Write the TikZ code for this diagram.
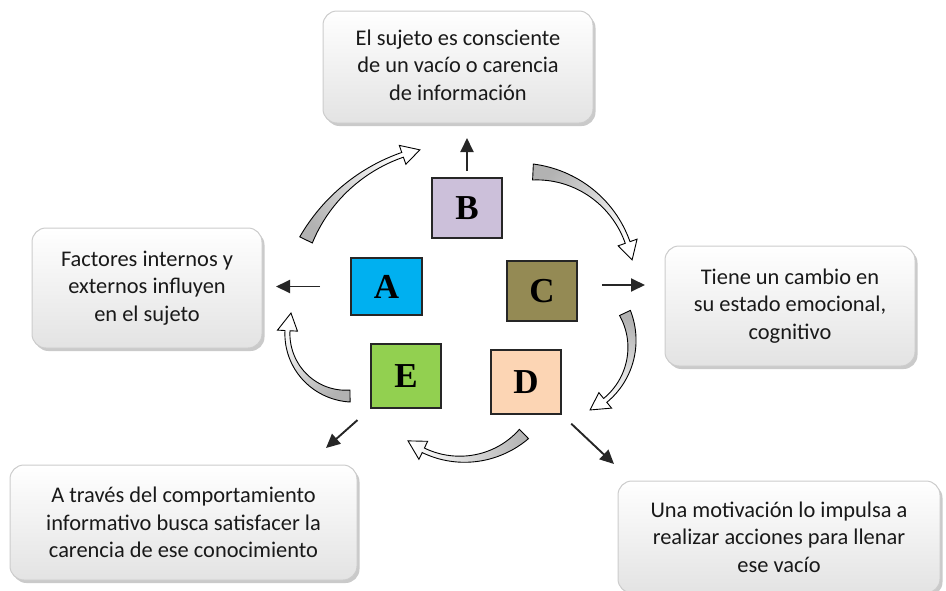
\documentclass[tikz,border=0pt]{standalone}
\usepackage{fontspec}
\setmainfont{Carlito}
\newfontfamily\letfont{Liberation Serif}
\usetikzlibrary{shadows,arrows.meta,calc}
\definecolor{colA}{HTML}{00B0F0}
\definecolor{colB}{HTML}{CCC0DA}
\definecolor{colC}{HTML}{948A54}
\definecolor{colD}{HTML}{FCD5B4}
\definecolor{colE}{HTML}{92D050}
\tikzset{
 tbox/.style={rounded corners=14pt, draw=gray!40, line width=1pt, top color=white, bottom color=gray!22,
   drop shadow={shadow xshift=2.5pt, shadow yshift=-3pt, opacity=0.6, fill=gray!70},
   align=center, font=\fontsize{22.4}{27.5}\selectfont, text=black!90, inner sep=0pt},
 lbox/.style={draw=black!85, line width=1.6pt, font=\letfont\bfseries\fontsize{35}{35}\selectfont, inner sep=0pt},
 arr/.style={-{Triangle[length=14pt,width=13pt]}, line width=1.9pt, draw=black!85},
 carr/.style={draw=black, line width=0.9pt, top color=white, bottom color=gray!60},
}
% curved block arrow: cx cy R a1 a2 w1 w2 shading-angle
\newcommand{\carrow}[8]{%
 \pgfmathsetmacro{\ab}{#5-(18/#3)*180/pi}%
 \pgfmathsetmacro{\hw}{10}%
 \shadedraw[carr, shading angle=#8]
  plot[domain=#4:\ab, samples=40, variable=\q] ({#1+(#3+(#7+(#6-#7)*((\ab-\q)/(\ab-#4))^2)/2)*cos(\q)}, {#2+(#3+(#7+(#6-#7)*((\ab-\q)/(\ab-#4))^2)/2)*sin(\q)})
  -- ({#1+(#3+\hw)*cos(\ab)},{#2+(#3+\hw)*sin(\ab)})
  -- ({#1+#3*cos(#5)},{#2+#3*sin(#5)})
  -- ({#1+(#3-\hw)*cos(\ab)},{#2+(#3-\hw)*sin(\ab)})
  -- plot[domain=\ab:#4, samples=40, variable=\q] ({#1+(#3-(#7+(#6-#7)*((\ab-\q)/(\ab-#4))^2)/2)*cos(\q)}, {#2+(#3-(#7+(#6-#7)*((\ab-\q)/(\ab-#4))^2)/2)*sin(\q)})
  -- cycle;
}
\begin{document}
\begin{tikzpicture}[x=1pt,y=-1pt]
\useasboundingbox (0,0) rectangle (946,590);
% text boxes
\node[tbox, minimum width=270pt, minimum height=112pt, text depth=4pt] (top) at (458,67) {El sujeto es consciente\\de un vacío o carencia\\de información};
\node[tbox, minimum width=230pt, minimum height=120pt] (left) at (147,288) {Factores internos y\\externos influyen\\en el sujeto};
\node[tbox, minimum width=250pt, minimum height=120pt] (right) at (790,306) {Tiene un cambio en\\su estado emocional,\\cognitivo};
\node[tbox, minimum width=347pt, minimum height=115pt] (bl) at (183.5,522.5) {A través del comportamiento\\informativo busca satisfacer la\\carencia de ese conocimiento};
\node[tbox, minimum width=322pt, minimum height=112pt] (br) at (779,537) {Una motivación lo impulsa a\\realizar acciones para llenar\\ese vacío};
% letter boxes
\node[lbox, fill=colB, minimum width=70pt, minimum height=60pt] (B) at (467,208) {B};
\node[lbox, fill=colA, minimum width=71pt, minimum height=57pt] (A) at (386.5,286.5) {A};
\node[lbox, fill=colC, minimum width=70pt, minimum height=60pt] (C) at (542,291) {C};
\node[lbox, fill=colE, minimum width=70pt, minimum height=64pt] (E) at (406,376) {E};
\node[lbox, fill=colD, minimum width=70pt, minimum height=64pt] (D) at (526,382) {D};
% straight arrows
\coordinate (tB) at (467,138);
\draw[arr, shorten <=6pt] (B.north) -- (tB);
\coordinate (tA) at (276,286.5);
\draw[arr, shorten <=30pt] (A.west) -- (tA);
\coordinate (tC) at (645,285);
\draw[arr, shorten <=24pt] ([yshift=6pt]C.east) -- (tC);
\coordinate (tE) at (326,448);
\draw[arr, shorten <=17pt] (E.south west) -- (tE);
\coordinate (tD) at (614,464);
\draw[arr, shorten <=13pt] (D.south east) -- (tD);
% curved arrows
\carrow{458}{315}{169.5}{206.3}{257}{14}{5}{-52}
\carrow{528}{277.5}{105.6}{272.7}{350.4}{16}{5}{-131.6}
\carrow{559}{344}{72.9}{-25.2}{64.8}{12}{5}{160.2}
\carrow{462}{370.5}{88.7}{45.7}{127.5}{13}{5}{93.5}
\carrow{349.6}{333.8}{62.2}{89.6}{199.5}{12}{5}{35.4}
\end{tikzpicture}
\end{document}
